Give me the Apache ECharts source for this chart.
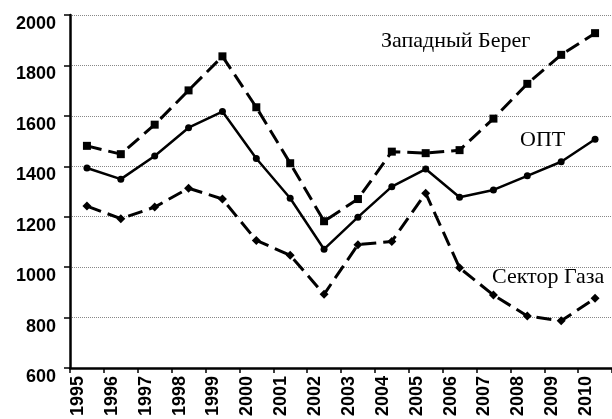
<!DOCTYPE html>
<html>
<head>
<meta charset="utf-8">
<script src="https://cdn.jsdelivr.net/npm/echarts@6/dist/echarts.min.js"></script>
<style>
  html, body { margin: 0; padding: 0; background: #fff; }
  #chart { width: 612px; height: 419px; }
</style>
</head>
<body>
<div id="chart"></div>
<script>
// годы
const years = ["1995", "1996", "1997", "1998", "1999", "2000", "2001", "2002",
  "2003", "2004", "2005", "2006", "2007", "2008", "2009", "2010"];

const westBank = [1481, 1448, 1565, 1701, 1836, 1634, 1412, 1182,
  1270, 1458, 1452, 1464, 1589, 1727, 1842, 1928];
const opt = [1393, 1349, 1441, 1553, 1617, 1431, 1273, 1071,
  1198, 1319, 1389, 1277, 1306, 1362, 1418, 1507];
const gaza = [1242, 1192, 1238, 1313, 1270, 1106, 1047, 892,
  1089, 1102, 1293, 997, 889, 806, 787, 876];

const yMin = 600, yMax = 2000, yStep = 200;

const chart = echarts.init(document.getElementById("chart"), null, { renderer: "canvas" });

const axisFont = {
  fontFamily: "Liberation Sans, Arial, sans-serif",
  fontWeight: "bold",
  fontSize: 18,
  color: "#000",
};
const noteFont = "22px 'Liberation Serif', 'Times New Roman', serif";

const mkLine = (name, data, symbol, size, dashed, width) => ({
  name: name,
  type: "line",
  data: data,
  symbol: symbol,
  symbolSize: size,
  showAllSymbol: true,
  itemStyle: { color: "#000" },
  lineStyle: { color: "#000", width: width, type: dashed ? [15, 7] : "solid" },
  z: 3,
});

chart.setOption({
  animation: false,
  backgroundColor: "#fff",
  grid: { left: 70, top: 15, width: 549, bottom: 49 },
  xAxis: {
    type: "category",
    data: years,
    boundaryGap: true,
    axisLine: { lineStyle: { color: "#000", width: 2.5 } },
    axisTick: { show: true, length: 5, lineStyle: { color: "#000", width: 1.5 } },
    axisLabel: {
      ...axisFont,
      rotate: 90,
      interval: 0,
      margin: 8,
      verticalAlign: "bottom",
    },
    splitLine: { show: false },
  },
  yAxis: {
    type: "value",
    min: yMin,
    max: yMax,
    interval: yStep,
    axisLine: { show: true, lineStyle: { color: "#000", width: 2.5 } },
    axisTick: { show: true, length: 6, lineStyle: { color: "#000", width: 1.5 } },
    // подписи в оригинале сдвинуты под линию сетки
    axisLabel: { ...axisFont, margin: 14, verticalAlign: "top", formatter: (v) => String(v) },
    splitLine: { show: true, lineStyle: { color: "#888", width: 1, type: "dotted" } },
  },
  graphic: [
    { type: "text", left: 381, top: 30, style: { text: "Западный Берег", font: noteFont, fill: "#000" } },
    { type: "text", left: 520, top: 129, style: { text: "ОПТ", font: noteFont, fill: "#000" } },
    { type: "text", left: 492, top: 266, style: { text: "Сектор Газа", font: noteFont, fill: "#000" } },
  ],
  series: [
    mkLine("Западный Берег", westBank, "rect", 8, true, 3),
    mkLine("ОПТ", opt, "circle", 7, false, 2.5),
    mkLine("Сектор Газа", gaza, "diamond", 9, true, 3),
  ],
});
</script>
</body>
</html>
